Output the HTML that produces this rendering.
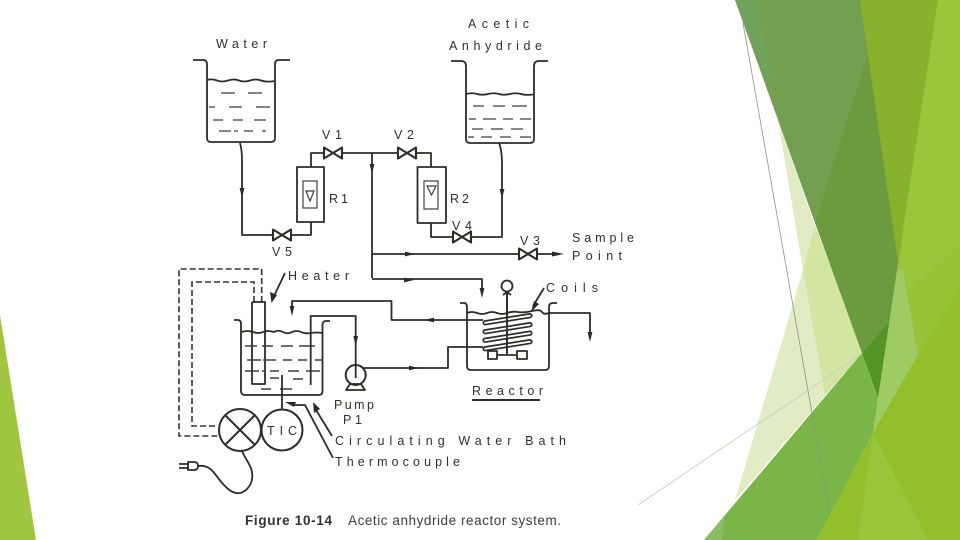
<!DOCTYPE html>
<html>
<head>
<meta charset="utf-8">
<style>
html,body{margin:0;padding:0;background:#fff;width:960px;height:540px;overflow:hidden}
svg{display:block}
text{font-family:"Liberation Sans",sans-serif;fill:#2f2f2d}
.t{font-size:12.5px}
.l{fill:none;stroke:#2c2c2a;stroke-width:1.8;stroke-linejoin:round}
.d{fill:none;stroke:#3f3f3d;stroke-width:1.2}
.dash{fill:none;stroke:#333331;stroke-width:1.6;stroke-dasharray:6 3}
.a{fill:#2b2b29;stroke:none}
.v{fill:#fff;stroke:#2c2c2a;stroke-width:2.1;stroke-linejoin:round}
</style>
</head>
<body>
<svg width="960" height="540" viewBox="0 0 960 540" xmlns="http://www.w3.org/2000/svg">
<defs>
<g id="valve"><path class="v" d="M-9,-5.5 L0,0 L-9,5.5 Z M9,-5.5 L0,0 L9,5.5 Z"/></g>
<path id="ad" class="a" d="M-2.4,-6 L2.4,-6 L0,4 Z"/>
<path id="ar" class="a" d="M-6,-2.4 L-6,2.4 L4,0 Z"/>
<path id="al" class="a" d="M6,-2.4 L6,2.4 L-4,0 Z"/>
</defs>

<!-- background facets -->
<polygon points="0,315 36,540 0,540" fill="#a0c63f"/>
<polygon points="778,120 815,226 862,353 735,500 803,270" fill="#e1ecc5"/>
<polygon points="803,270 815,226 832,270 862,353 825,395" fill="#d3e6a1"/>
<polygon points="860,0 960,0 960,540 817,540 873,433 878,398" fill="#95c436"/>
<polygon points="735,0 870,0 875,53 815,223" fill="#739f50"/>
<polygon points="735,0 757,0 772,90" fill="#6fa35c"/>
<polygon points="868,53 905,240 900,270 891,322 862,353 815,223" fill="#6c9b3f"/>
<polygon points="891,320 862,353 878,398" fill="#559526"/>
<polygon points="704,540 862,353 878,398 873,433 817,540" fill="#7ab548"/>
<polygon points="704,540 725,515 722,540" fill="#8cbb62"/>
<polygon points="860,0 938,0 898,262" fill="#88b22d"/>
<polygon points="938,0 960,0 960,287 917,355 903,270 897,270" fill="#98c73b"/>
<polygon points="960,245 905,293 917,355 960,287" fill="#95c436"/>
<polygon points="897,270 903,270 918,355 873,433 878,398" fill="#9ecb63"/>
<polygon points="960,287 960,540 817,540 873,433 918,355" fill="#93c02a"/>
<polygon points="873,433 858,540 928,540" fill="#97c63a"/>
<line x1="743" y1="23" x2="830" y2="515" stroke="#8d9488" stroke-width="0.8"/>
<line x1="638" y1="505" x2="860" y2="355" stroke="#c6cbc0" stroke-width="0.8"/>

<g style="filter:blur(0.3px)">
<!-- water tank -->
<path class="l" d="M193,60 H203 Q207,60 207,64 V138 Q207,142 211,142 H271 Q275,142 275,138 V64 Q275,60 279,60 H290"/>
<path class="l" d="M207,80 q5,-1.5 10,0.5 t11,0 t11,0 t11,0 t11,0 t14,0.5"/>
<path class="d" d="M221,93h14M248,93h14M209,107h6M229,107h13M256,107h14M213,120h10M233,120h10M254,120h12M219,131h12M234,131h4M244,131h9M262,131h4"/>
<path class="l" d="M240,143 Q242,150 242,160 V235 H272"/>
<use href="#ad" x="242" y="194"/>
<use href="#valve" x="282" y="235"/>
<path class="l" d="M292,235 H311 V222"/>
<rect class="l" x="297" y="167" width="27" height="55"/>
<rect class="d" x="303" y="181" width="14" height="27"/>
<path class="d" d="M306,191 H314 L310,201 Z"/>
<path class="l" d="M311,167 V153 H323"/>
<use href="#valve" x="333" y="153"/>
<path class="l" d="M343,153 H397"/>
<use href="#valve" x="407" y="153"/>
<path class="l" d="M417,153 H431 V167"/>
<rect class="l" x="417.500" y="167" width="28.500" height="56"/>
<rect class="d" x="424" y="181" width="14" height="28"/>
<path class="d" d="M427,186 H436 L431.500,195 Z"/>
<path class="l" d="M431,223 V237 H452"/>
<use href="#valve" x="462" y="237"/>
<path class="l" d="M472,237 H502 V165 Q502,150 499,143"/>
<use href="#ad" x="502" y="195"/>

<!-- acetic anhydride tank -->
<path class="l" d="M451,61 H461 Q466,61 466,66 V139 Q466,143 470,143 H530 Q534,143 534,139 V66 Q534,61 539,61 H548"/>
<path class="l" d="M466,94 q6,-1.500 11,0 t11,0 t11,0 t11,0 t11,0 t12,0.500"/>
<path class="d" d="M473,106h11M493,106h12M512,106h15M469,119h7M483,119h13M503,119h10M520,119h11M472,129h11M491,129h12M511,129h12M468,137h6M481,137h11M500,137h11M520,137h11" style="stroke-width:1.300"/>

<!-- central feed -->
<path class="l" d="M372,153 V278 H372"/>
<use href="#ad" x="372" y="170"/>
<path class="l" d="M372,254 H518"/>
<use href="#ar" x="411" y="254"/>
<use href="#valve" x="528" y="254"/>
<path class="l" d="M538,254 H558"/>
<path class="a" d="M552,251.500 L552,256.500 L564,254 Z"/>
<path class="l" d="M372,279 H482 V294"/>
<use href="#ar" x="410" y="280"/>
<use href="#ad" x="482" y="294"/>

<!-- reactor -->
<path class="l" d="M460,303 H464 Q467,303 467,307 V366 Q467,370 471,370 H545 Q549,370 549,366 V307 Q549,303 553,303 H557"/>
<path class="l" d="M467,313 q5,-2 10,0 t10,0 t10,0 t10,0 t11,-1 t14,-1 t10,1 t7,1"/>
<circle class="l" cx="507" cy="286" r="5.500"/>
<path class="l" d="M503,295 L507,292 L511,295 M507,292 V354"/>
<g fill="#fff" stroke="#2c2c2a" stroke-width="1.700">
<rect x="483" y="317.500" width="49" height="3.600" rx="1.800" transform="rotate(-9 507 319)"/>
<rect x="483" y="326.500" width="49" height="3.600" rx="1.800" transform="rotate(-9 507 328)"/>
<rect x="483" y="335" width="49" height="3.600" rx="1.800" transform="rotate(-9 507 337)"/>
<rect x="483" y="343.500" width="49" height="3.600" rx="1.800" transform="rotate(-9 507 345)"/>
</g>
<path class="l" d="M507,292 V354 M497,355 H517"/>
<rect class="l" x="488" y="351" width="9" height="8" fill="none"/>
<rect class="l" x="517" y="351" width="10" height="8" fill="none"/>
<path class="l" d="M483,320 H391.500 V301 H292 V312"/>
<use href="#al" x="428" y="320"/>
<use href="#ad" x="292" y="312"/>
<path class="l" d="M549,313 H590 V338"/>
<use href="#ad" x="590" y="338"/>
<path class="l" d="M363,368 H448 V347 H483"/>
<use href="#ar" x="415" y="368"/>
<path class="l" d="M472,400 H540" style="stroke-width:2"/>

<!-- coils arrow -->
<path class="l" d="M544,288 L533,306"/>
<path class="a" d="M534,301 L539,304 L531,312 Z"/>

<!-- bath -->
<path class="l" d="M234,320 H238 Q241,320 241,324 V391 Q241,395 245,395 H319 Q322.500,395 322.500,391 V325 Q322.500,321 326,321 H330"/>
<path class="l" d="M242,332 q5,-2 11,0 t10,0 t11,0 q4,-2.500 9,0 t9,0 q5,-2 9,0 t10,1 t11,0"/>
<path class="l" d="M252,302 V384 H265 V302 H252"/>
<path class="d" d="M245,346h12M262,346h11M281,346h12M299,346h16M247,360h14M263,360h13M283,360h9M298,360h9M315,360h8M245,371h14M262,371h4M270,371h9M288,371h11M306,371h14M270,378h9M293,379h10M261,389h10M280,389h12" style="stroke-width:1.500"/>
<path class="l" d="M310.700,385 V316 H355.700 V367"/>
<use href="#ad" x="355.700" y="342"/>
<path class="l" d="M282,375 V410"/>

<!-- dashed wires -->
<path class="dash" d="M261.700,302 V269 H179 V436 H218"/>
<path class="dash" d="M254,302 V282 H192 V426 H218"/>

<!-- lamp and TIC -->
<circle class="l" cx="240" cy="430" r="21" style="stroke-width:2"/>
<path class="l" d="M225,415 L255,445 M255,415 L225,445" style="stroke-width:2"/>
<circle class="l" cx="282" cy="430" r="20.500" style="stroke-width:2"/>

<!-- pump -->
<circle class="l" cx="355.700" cy="375" r="10" style="stroke-width:2"/>
<path class="l" d="M355.700,367 V378"/>
<path class="l" d="M346,390 L350,384 H361 L365,390 Z" style="stroke-width:1.800"/>

<!-- plug and cable -->
<path class="l" d="M179,464 H189 M179,468 H189"/>
<path class="l" d="M188,462 H194 Q198,462 198,466 Q198,470 194,470 H188 Z"/>
<path class="l" d="M198,466 C212,464 215,476 224,485 C232,494 240,496 247,489 C254,482 253,472 250,466 C247,460 244,456 242,451"/>

<!-- pointer arrows -->
<path class="l" d="M285,273 L274,296"/>
<path class="a" d="M271.500,303 L270,292 L277,295 Z"/>
<path class="l" d="M332,436 L316,410"/>
<path class="a" d="M313,402 L320,409 L314,413 Z"/>
<path class="l" d="M333,458 L305,405 H292"/>
<path class="a" d="M285,402 L296,402 L294,407 Z"/>

<!-- labels -->
<text class="t" x="216" y="48" textLength="51">Water</text>
<text class="t" x="468" y="28" textLength="61">Acetic</text>
<text class="t" x="449" y="50" textLength="93">Anhydride</text>
<text class="t" x="322" y="139" textLength="20">V1</text>
<text class="t" x="394" y="139" textLength="20">V2</text>
<text class="t" x="272" y="256" textLength="20">V5</text>
<text class="t" x="329" y="203" textLength="19">R1</text>
<text class="t" x="450" y="203" textLength="19">R2</text>
<text class="t" x="452" y="230" textLength="20">V4</text>
<text class="t" x="520" y="245" textLength="20">V3</text>
<text class="t" x="572" y="242" textLength="62">Sample</text>
<text class="t" x="572" y="260" textLength="50">Point</text>
<text class="t" x="288" y="280" textLength="61">Heater</text>
<text class="t" x="546" y="292" textLength="52">Coils</text>
<text class="t" x="472" y="395" textLength="71">Reactor</text>
<text class="t" x="334" y="409" textLength="40">Pump</text>
<text class="t" x="343" y="424" textLength="19">P1</text>
<text class="t" x="335" y="445" textLength="231">Circulating Water Bath</text>
<text class="t" x="335" y="466" textLength="125">Thermocouple</text>
<text class="t" x="267" y="435" textLength="30">TIC</text>
</g>

<!-- caption -->
<text x="245" y="525" font-size="13.500" font-weight="700" textLength="87" style="fill:#333">Figure 10-14</text>
<text x="348" y="525" font-size="13.500" textLength="213" style="fill:#3c3c3c">Acetic anhydride reactor system.</text>
</svg>
</body>
</html>
